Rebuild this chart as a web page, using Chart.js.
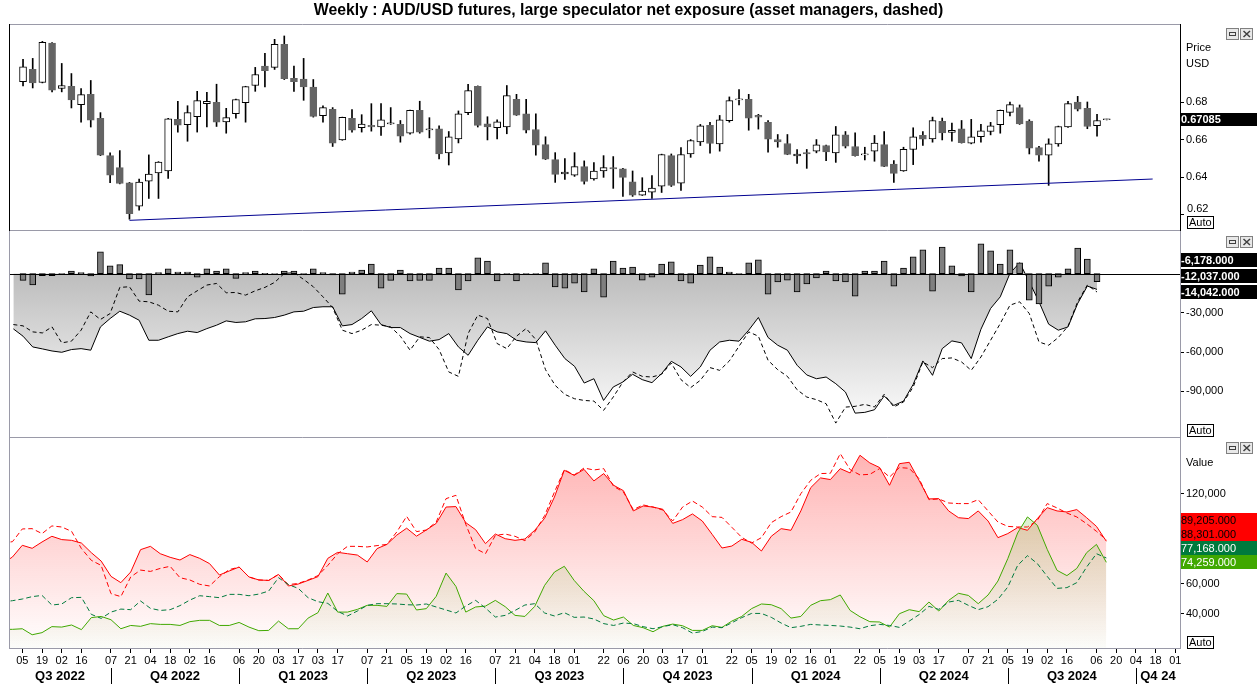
<!DOCTYPE html>
<html>
<head>
<meta charset="utf-8">
<script src="https://cdn.jsdelivr.net/npm/chart.js@4.4.1/dist/chart.umd.min.js"></script>
<style>
html,body{margin:0;padding:0;background:#fff;}
body{width:1257px;height:685px;overflow:hidden;position:relative;font-family:"Liberation Sans",Arial,sans-serif;color:#000;}
canvas{position:absolute;left:0;display:block;}
#title{position:absolute;left:0;top:1px;width:1257px;text-align:center;font-weight:bold;font-size:15.8px;line-height:18px;}
.lbl{position:absolute;font-size:11px;line-height:13px;}
.auto{position:absolute;font-size:11px;line-height:11px;height:11px;border:1px solid #000;padding:0 1px;background:#fff;}
.icons{position:absolute;left:1226px;}
</style>
</head>
<body>
<canvas id="cPrice" width="1257" height="231" style="top:0"></canvas>
<canvas id="cNet" width="1257" height="207" style="top:231px"></canvas>
<canvas id="cPos" width="1257" height="247" style="top:438px"></canvas>
<div id="title">Weekly : AUD/USD futures, large speculator net exposure (asset managers, dashed)</div>
<div class="lbl" style="left:1186px;top:41px">Price</div>
<div class="lbl" style="left:1186px;top:57px">USD</div>
<div class="lbl" style="left:1186px;top:456px">Value</div>
<div class="auto" style="left:1187px;top:216px">Auto</div>
<div class="auto" style="left:1187px;top:424px">Auto</div>
<div class="auto" style="left:1187px;top:636px">Auto</div>
<svg class="icons" style="top:28px" width="30" height="12"><rect x="0.5" y="0.5" width="12" height="11" fill="#e8e8e8" stroke="#808080"/><rect x="3.5" y="4.5" width="6" height="3" fill="none" stroke="#404040"/><rect x="14.5" y="0.5" width="12" height="11" fill="#e8e8e8" stroke="#808080"/><path d="M17.5 3 L24 9 M24 3 L17.5 9" stroke="#404040" stroke-width="1.5"/></svg>
<svg class="icons" style="top:236px" width="30" height="12"><rect x="0.5" y="0.5" width="12" height="11" fill="#e8e8e8" stroke="#808080"/><rect x="3.5" y="4.5" width="6" height="3" fill="none" stroke="#404040"/><rect x="14.5" y="0.5" width="12" height="11" fill="#e8e8e8" stroke="#808080"/><path d="M17.5 3 L24 9 M24 3 L17.5 9" stroke="#404040" stroke-width="1.5"/></svg>
<svg class="icons" style="top:442px" width="30" height="12"><rect x="0.5" y="0.5" width="12" height="11" fill="#e8e8e8" stroke="#808080"/><rect x="3.5" y="4.5" width="6" height="3" fill="none" stroke="#404040"/><rect x="14.5" y="0.5" width="12" height="11" fill="#e8e8e8" stroke="#808080"/><path d="M17.5 3 L24 9 M24 3 L17.5 9" stroke="#404040" stroke-width="1.5"/></svg>
<script>
// ================= DATA =================
// Weekly candles, week 0 = 29 Jul 2022 ... week 112 = 20 Sep 2024
const OPEN = [0.6910,0.6976,0.6906,0.7117,0.6874,0.6886,0.6788,0.6843,0.6714,0.6515,
 0.6451,0.6370,0.6245,0.6379,0.6422,0.6433,0.6709,0.6680,0.6723,0.6793,
 0.6800,0.6696,0.6739,0.6798,0.6890,0.6994,0.6987,0.7110,0.6929,0.6924,
 0.6881,0.6729,0.6763,0.6599,0.6714,0.6664,0.6677,0.6669,0.6685,0.6682,
 0.6635,0.6757,0.6653,0.6659,0.6530,0.6605,0.6745,0.6886,0.6685,0.6664,
 0.6669,0.6816,0.6739,0.6655,0.6574,0.6494,0.6417,0.6411,0.6456,0.6390,
 0.6433,0.6451,0.6445,0.6375,0.6304,0.6320,0.6352,0.6515,0.6368,0.6524,
 0.6589,0.6677,0.6578,0.6702,0.6813,0.6816,0.6730,0.6693,0.6601,0.6580,
 0.6513,0.6531,0.6539,0.6569,0.6530,0.6626,0.6564,0.6519,0.6539,0.6574,
 0.6470,0.6433,0.6548,0.6623,0.6605,0.6698,0.6639,0.6659,0.6582,0.6616,
 0.6644,0.6680,0.6746,0.6772,0.6700,0.6558,0.6517,0.6578,0.6668,0.6802,
 0.6768,0.6675,0.6707];
const HIGH = [0.7030,0.7035,0.7126,0.7120,0.7008,0.6954,0.6874,0.6917,0.6745,0.6530,
 0.6542,0.6372,0.6390,0.6519,0.6483,0.6714,0.6806,0.6782,0.6859,0.6854,
 0.6897,0.6768,0.6817,0.6886,0.6987,0.7062,0.7137,0.7155,0.6994,0.7035,
 0.6922,0.6782,0.6772,0.6721,0.6761,0.6734,0.6793,0.6793,0.6772,0.6703,
 0.6759,0.6806,0.6718,0.6675,0.6644,0.6754,0.6897,0.6888,0.6723,0.6707,
 0.6890,0.6843,0.6816,0.6739,0.6616,0.6531,0.6499,0.6531,0.6487,0.6478,
 0.6515,0.6510,0.6447,0.6433,0.6397,0.6408,0.6523,0.6524,0.6558,0.6601,
 0.6682,0.6693,0.6730,0.6829,0.6868,0.6843,0.6736,0.6703,0.6628,0.6628,
 0.6548,0.6548,0.6601,0.6571,0.6671,0.6644,0.6637,0.6560,0.6623,0.6644,
 0.6488,0.6560,0.6664,0.6644,0.6721,0.6716,0.6689,0.6703,0.6709,0.6682,
 0.6693,0.6759,0.6802,0.6786,0.6707,0.6565,0.6605,0.6673,0.6806,0.6832,
 0.6802,0.6736,0.6710];
const LOW = [0.6888,0.6877,0.6904,0.6856,0.6856,0.6770,0.6694,0.6668,0.6515,0.6370,
 0.6364,0.6175,0.6223,0.6286,0.6286,0.6393,0.6641,0.6592,0.6641,0.6668,
 0.6671,0.6635,0.6716,0.6694,0.6859,0.6883,0.6976,0.6922,0.6859,0.6811,
 0.6721,0.6694,0.6564,0.6597,0.6641,0.6641,0.6646,0.6623,0.6682,0.6587,
 0.6630,0.6635,0.6610,0.6497,0.6465,0.6583,0.6734,0.6668,0.6599,0.6605,
 0.6632,0.6730,0.6637,0.6517,0.6494,0.6372,0.6388,0.6404,0.6363,0.6384,
 0.6399,0.6340,0.6297,0.6297,0.6302,0.6286,0.6318,0.6350,0.6329,0.6506,
 0.6569,0.6528,0.6539,0.6694,0.6786,0.6651,0.6657,0.6533,0.6560,0.6520,
 0.6474,0.6447,0.6530,0.6488,0.6479,0.6556,0.6512,0.6492,0.6485,0.6456,
 0.6372,0.6431,0.6467,0.6569,0.6587,0.6599,0.6592,0.6582,0.6578,0.6587,
 0.6626,0.6635,0.6727,0.6682,0.6524,0.6485,0.6356,0.6565,0.6666,0.6754,
 0.6659,0.6619,0.6706];
const CLOSE = [0.6990,0.6904,0.7121,0.6865,0.6890,0.6813,0.6841,0.6705,0.6517,0.6410,
 0.6366,0.6205,0.6374,0.6417,0.6481,0.6712,0.6678,0.6745,0.6809,0.6806,
 0.6694,0.6718,0.6815,0.6884,0.6949,0.6969,0.7110,0.6926,0.6910,0.6883,
 0.6725,0.6772,0.6582,0.6720,0.6651,0.6684,0.6668,0.6707,0.6691,0.6619,
 0.6757,0.6641,0.6659,0.6524,0.6616,0.6739,0.6863,0.6677,0.6668,0.6696,
 0.6836,0.6732,0.6651,0.6571,0.6496,0.6415,0.6427,0.6456,0.6377,0.6433,
 0.6451,0.6444,0.6399,0.6304,0.6325,0.6341,0.6521,0.6356,0.6521,0.6596,
 0.6675,0.6580,0.6707,0.6809,0.6816,0.6716,0.6721,0.6603,0.6589,0.6522,
 0.6524,0.6524,0.6573,0.6535,0.6626,0.6565,0.6515,0.6522,0.6582,0.6458,
 0.6420,0.6549,0.6616,0.6603,0.6703,0.6637,0.6650,0.6585,0.6616,0.6648,
 0.6675,0.6757,0.6788,0.6684,0.6555,0.6517,0.6578,0.6671,0.6793,0.6763,
 0.6671,0.6703,0.67085];

// Support trend line (week, price)
const TREND_WEEKS = [11, 116.75];
const TREND_PRICES = [0.6169, 0.6390];

// Weekly change of large speculator net exposure, weeks 0..111
const NET_CHANGE = [-5100,-8700,-1500,-1500,-800,2000,800,-1800,16600,5900,6900,-4100,-4100,-16300,800,3600,1300,1300,-2600,3600,2000,3600,-3600,800,2000,300,-300,2000,2000,-800,3600,800,-1000,-15600,1300,2800,7400,-11000,-5100,2800,-5600,-5100,
 -5100,4300,4300,-12500,-5600,12000,9700,-5600,-500,-5600,-500,-500,8200,-10200,-11000,-7200,-14000,3600,-17900,9700,4300,5100,-4900,-2600,7400,9000,-5600,-7200,6600,12800,5100,1300,-500,8200,10500,-15600,-6400,-4900,-14000,-7900,
 -3300,2000,-5600,-6400,-17200,2000,2000,9700,-9500,4300,12800,18200,-13300,20400,5900,-1800,-14000,22700,17400,7400,18200,8200,-20200,-23200,-9500,-2600,3600,19600,11200,-6178];

// Line series start one week before the first candle (week -1 .. 111)
const LINE_START_WEEK = -1;
const NET_LARGE_SPEC = [-42200,-47800,-56000,-57500,-59100,-60100,-58000,-57300,-58500,-40700,-34300,-28700,-31700,-35600,-50900,-50900,-48300,-45800,-44000,-45000,-42000,-39400,-36100,-37300,-36800,-34500,-34300,-33500,-31700,-29200,-28700,-25900,-25300,-25300,-39900,-38900,-34300,-28400,-38900,-41200,-41200,-45800,-48700,
 -51600,-50400,-45800,-56000,-62400,-50900,-40700,-44500,-45800,-50900,-52200,-52700,-43700,-54700,-64900,-70800,-83600,-80300,-96900,-86600,-82800,-76900,-81000,-83300,-76400,-67000,-71300,-78500,-71300,-58500,-52200,-50900,-51600,-43200,-33500,-48800,-54700,-58500,-70000,-77400,
 -80300,-79000,-84100,-90500,-106600,-106000,-104000,-93500,-100700,-97400,-84600,-66700,-77700,-57300,-51400,-52900,-64900,-42500,-26600,-17700,200,8400,-6200,-21500,-38600,-43200,-40700,-22800,-9500,-12037];
const NET_ASSET_MGR = [-38900,-39900,-44500,-45300,-40700,-52900,-51600,-43200,-29200,-35000,-30500,-10500,-10000,-21000,-21500,-24100,-28700,-29200,-17700,-13100,-8700,-7500,-14600,-14400,-16400,-13100,-10500,-6700,200,700,-4400,-10000,-17700,-25900,-43200,-45800,-43200,-38900,-39400,-40700,-47800,-58500,-48300,
 -48800,-58000,-75100,-78500,-45800,-31700,-34300,-53400,-57300,-47800,-41900,-50400,-73400,-85400,-92300,-95600,-96900,-97400,-104500,-94300,-82800,-75100,-78500,-79000,-76900,-68300,-81000,-87100,-81500,-71800,-73900,-66700,-55500,-44500,-47800,-66200,-73400,-78500,-88700,-94300,
 -96300,-99400,-114200,-102000,-101400,-99900,-101900,-92200,-101900,-98100,-86600,-67500,-71800,-64900,-64400,-67500,-73900,-63700,-50900,-38100,-24100,-21500,-30500,-52200,-54700,-48800,-40200,-21500,-8700,-14042];

// Gross positions (week -1 .. 111)
const SHORT_LARGE_SPEC = [73400,77800,85600,83600,87800,91600,89400,88900,87100,80700,75100,64900,60700,67800,82700,84900,80000,77600,75800,79400,76900,73400,65800,68500,71100,64500,62500,62200,66200,58500,59800,62200,64700,76900,80900,80000,79100,74500,83400,86200,92400,97000,91700,
 95800,100200,111100,111400,100700,96000,86700,93100,90000,88900,89800,95600,103600,117800,135600,132200,136200,128500,133400,125600,122000,108500,111800,111100,109600,100200,102700,106500,101800,92900,83800,85100,89600,87600,81800,91600,96700,95600,108500,124000,
 130500,129400,136700,133800,145600,140500,137400,125600,140000,140900,128900,116500,116700,108500,104000,103400,108500,101800,90700,93400,97400,95600,103400,110700,108500,107800,109400,104000,98200,88301];
const SHORT_ASSET_MGR = [87100,88000,96500,96700,93400,98500,97800,94900,83400,75600,72200,53400,51400,64500,69100,68200,70200,71600,64000,62500,59600,58500,64700,69400,71100,64500,62500,62200,66200,59400,60200,62500,65400,72200,80000,84900,84900,84500,85400,86200,94500,104900,94700,
 95800,101100,116700,118900,99600,83400,80000,92200,93100,91600,88700,94500,105400,121100,136000,132500,137100,135800,136700,124900,121100,109400,112500,111100,109100,101800,111100,115100,111100,104700,104200,97600,90900,87100,90700,100700,104700,107800,120000,128900,
 133400,133600,146700,136000,132500,132900,136700,131100,137400,136900,130000,116000,116500,113800,113400,113400,116000,108500,101100,98200,97800,97800,102200,113400,110500,107100,104500,100000,94900,89205];
const LONG_LARGE_SPEC = [29600,29600,30000,26000,27400,31400,31100,32500,29400,37400,38200,36000,30000,32200,31600,33400,32900,32900,32200,34700,35600,35600,32200,32200,34200,31100,28700,28900,35100,30000,30000,37100,40700,53800,41100,41100,42900,45600,45600,44900,53400,53100,42500,
 43400,51600,67100,58200,41100,44500,45100,48900,44700,38900,38200,44900,58900,67800,71600,62200,54900,48700,38700,35800,37800,32200,30700,28000,31600,33100,32000,28900,28900,32000,30900,35100,38200,43400,46500,46000,43400,37100,38200,45600,
 48700,49400,52500,42200,38000,34700,34500,31100,40000,42700,41400,47800,41800,48900,53600,52200,46700,52500,61800,76700,93800,104500,98900,82900,68900,65400,70200,80700,86200,74259];
const LONG_ASSET_MGR = [47800,48700,49800,51400,52200,45800,46500,50700,50900,39600,36900,41100,43100,42700,48500,43600,42200,42700,45400,49100,52000,51400,50700,52900,52900,52000,53100,55100,64000,59400,56900,50700,48000,46900,41600,38500,41800,45600,46700,46700,46500,46000,45800,
 46500,44500,42500,40500,45100,48900,43800,37800,38900,42200,45800,46700,40500,38500,40700,37600,37800,36500,33400,32200,33800,33400,31400,30000,31400,32700,30700,27100,28200,31100,30700,34000,37400,40200,40200,37600,33800,30700,31600,32900,
 32500,32200,31800,31100,30000,32000,32900,32200,30900,35100,39400,44900,42900,47800,48900,45600,42700,44700,49600,57800,72200,78700,73400,64900,56900,57400,60700,71100,80000,77168];

// Axis labels
const DATE_TICK_WEEKS = [1,3,5,7,10,12,14,16,18,20,23,25,27,29,31,33,36,38,40,42,44,46,49,51,53,55,57,60,62,64,66,68,70,73,75,77,79,81,83,86,88,90,92,94,97,99,101,103,105,107,110,112,114,116,118];
const DATE_TICK_LABELS = ['05','19','02','16','07','21','04','18','02','16','06','20','03','17','03','17','07','21','05','19','02','16','07','21','04','18','01','22','06','20','03','17','01','22','05','19','02','16','01','22','05','19','03','17','07','21','05','19','02','16','06','20','04','18','01'];
const QUARTER_START_WEEKS = [10,23,36,49,62,75,88,101,114];
const QUARTER_LABELS = ['Q3 2022','Q4 2022','Q1 2023','Q2 2023','Q3 2023','Q4 2023','Q1 2024','Q2 2024','Q3 2024','Q4 24'];
const PRICE_TICKS = [0.62,0.64,0.66,0.68];
const NET_TICKS = [-30000,-60000,-90000];
const POS_TICKS = [40000,60000,120000];

// ================= CHARTS =================
const FONT = '"Liberation Sans", Arial, Helvetica, sans-serif';
Chart.defaults.font.family = FONT;
Chart.defaults.font.size = 11;
Chart.defaults.color = '#000';
Chart.defaults.animation = false;
Chart.defaults.events = [];
Chart.defaults.plugins.legend.display = false;
Chart.defaults.plugins.tooltip.enabled = false;

const X_MIN = -0.35, X_MAX = 118.475;
const GRAY = '#9a9aa8';
const fmt0 = v => Math.round(v).toLocaleString('en-US');
const fmt3 = v => v.toLocaleString('en-US', {minimumFractionDigits:3, maximumFractionDigits:3});

function xAxis(show){
  return {
    type:'linear', min:X_MIN, max:X_MAX, display:show, bounds:'data',
    afterBuildTicks: s => { s.ticks = DATE_TICK_WEEKS.map(v => ({value:v})); },
    afterFit: s => { s.height = show ? 36 : 0; s.paddingLeft = 0; s.paddingRight = 0; s.paddingTop = 0; s.paddingBottom = 0; },
    ticks:{autoSkip:false, maxRotation:0, minRotation:0, padding:1, callback:(v,i)=>DATE_TICK_LABELS[i], font:{size:11}, color:'#000'},
    grid:{drawOnChartArea:false, drawTicks:true, tickLength:4, color:'#000'},
    border:{display:false}
  };
}
function yAxis(min, max, ticks, fmt, hideLabelAt){
  return {
    position:'right', min, max, bounds:'data',
    afterBuildTicks: s => { s.ticks = ticks.map(v => ({value:v})); },
    afterFit: s => { s.width = 77; s.paddingTop = 0; s.paddingBottom = 0; s.paddingLeft = 0; s.paddingRight = 0; },
    ticks:{callback: v => (v === hideLabelAt ? '' : fmt(v)), padding:2, font:{size:11}, color:'#000', autoSkip:false},
    grid:{drawOnChartArea:false, drawTicks:true, tickLength:4, color:'#000'},
    border:{display:false}
  };
}

const framePlugin = {
  id:'frame',
  afterDraw(chart, args, o){
    const {ctx, chartArea:a} = chart;
    const L = Math.round(a.left) + 0.5, R = Math.round(a.right) + 0.5;
    const T = Math.round(a.top) + 0.5, B = Math.round(a.bottom) - 0.5;
    ctx.save(); ctx.lineWidth = 1;
    const seg = (c,x1,y1,x2,y2) => { ctx.strokeStyle=c; ctx.beginPath(); ctx.moveTo(x1,y1); ctx.lineTo(x2,y2); ctx.stroke(); };
    if (o.zero) { const y = Math.round(chart.scales.y.getPixelForValue(0)) + 0.5; seg('#000', L, y, R, y); }
    if (o.top) seg(o.top, L, T, R, T);
    if (o.bottom) seg(o.bottom, L, B, R, B);
    if (o.left) seg(o.left, L, a.top, L, a.bottom);
    if (o.right) seg(o.right, R, a.top, R, a.bottom);
    // a tick label nudged upward (to clear the "Auto" box), as in the original
    if (o.shifted) {
      const py = chart.scales.y.getPixelForValue(o.shifted.value) + o.shifted.dy;
      ctx.fillStyle = '#000'; ctx.font = '11px ' + FONT; ctx.textAlign = 'left'; ctx.textBaseline = 'middle';
      ctx.fillText(o.shifted.text, Math.round(a.right) + 7, py);
    }
    ctx.restore();
  }
};
const tagPlugin = {
  id:'tags',
  afterDraw(chart, args, o){
    if (!o.items) return;
    const {ctx, chartArea:a} = chart, y = chart.scales.y;
    const list = o.items.map(t => Object.assign({py: y.getPixelForValue(t.value)}, t)).sort((p,q) => q.py - p.py);
    let prev = Infinity;
    list.forEach(t => { t.cy = Math.min(t.py, prev - o.step); prev = t.cy; });
    const x0 = Math.round(a.right) + 1;
    ctx.save();
    list.forEach(t => {
      const top = Math.round(t.cy - o.h/2);
      ctx.fillStyle = t.bg; ctx.fillRect(x0, top, chart.width - x0, o.h);
      ctx.fillStyle = t.fg; ctx.font = o.font; ctx.textBaseline = 'middle'; ctx.textAlign = 'left';
      ctx.fillText(t.text, x0, top + o.h/2 + 0.5);
    });
    ctx.restore();
  }
};
const quarterPlugin = {
  id:'quarters',
  afterDraw(chart){
    const {ctx, chartArea:a} = chart, x = chart.scales.x;
    const bounds = [a.left, ...QUARTER_START_WEEKS.map(w => x.getPixelForValue(w)), a.right];
    ctx.save();
    ctx.strokeStyle = '#000'; ctx.lineWidth = 1;
    QUARTER_START_WEEKS.forEach(w => {
      const px = Math.round(x.getPixelForValue(w)) + 0.5;
      ctx.beginPath(); ctx.moveTo(px, a.bottom + 19); ctx.lineTo(px, a.bottom + 35); ctx.stroke();
    });
    ctx.font = 'bold 13px ' + FONT; ctx.fillStyle = '#000'; ctx.textAlign = 'center'; ctx.textBaseline = 'middle';
    QUARTER_LABELS.forEach((lab, k) => ctx.fillText(lab, (bounds[k] + bounds[k+1]) / 2, a.bottom + 27));
    ctx.restore();
  }
};

// ---------- price panel ----------
const weeks = OPEN.map((_, i) => i);
const isUp = i => CLOSE[i] >= OPEN[i];
new Chart(document.getElementById('cPrice'), {
  type:'bar',
  data:{datasets:[
    {type:'line', data: TREND_WEEKS.map((w,k) => ({x:w, y:TREND_PRICES[k]})), borderColor:'#000090', borderWidth:1, pointRadius:0, order:1},
    {type:'bar', data: weeks.map(i => ({x:i, y:[OPEN[i], CLOSE[i]]})), grouped:false, barThickness:7, minBarLength:1,
     backgroundColor: c => isUp(c.dataIndex) ? '#ffffff' : '#646464',
     borderColor: c => isUp(c.dataIndex) ? '#000000' : '#646464',
     borderWidth:1, borderSkipped:false, order:2},
    {type:'bar', data: weeks.map(i => ({x:i, y:[LOW[i], HIGH[i]]})), grouped:false, barThickness:1, backgroundColor:'#000', borderWidth:0, order:3}
  ]},
  options:{
    responsive:false, maintainAspectRatio:false,
    layout:{padding:{left:9, top:24, right:0, bottom:0}},
    scales:{ x: xAxis(false), y: yAxis(0.6112, 0.7219, PRICE_TICKS, v => v.toFixed(2), PRICE_TICKS[0]) },
    plugins:{
      frame:{top:GRAY, bottom:GRAY, left:'#000', right:'#000', shifted:{value:PRICE_TICKS[0], dy:-6, text:PRICE_TICKS[0].toFixed(2)}},
      tags:{h:13, step:14, font:'bold 11px ' + FONT,
        items:[{value: CLOSE[CLOSE.length-1], text: CLOSE[CLOSE.length-1].toFixed(5), bg:'#000', fg:'#fff'}]}
    }
  },
  plugins:[framePlugin, tagPlugin]
});

// ---------- net exposure panel ----------
const lineXY = arr => arr.map((v,k) => ({x: LINE_START_WEEK + k, y: v}));
const grayFill = c => {
  const ch = c.chart, a = ch.chartArea;
  if (!a) return '#cccccc';
  const y0 = ch.scales.y.getPixelForValue(0), y1 = ch.scales.y.getPixelForValue(-112000);
  const g = ch.ctx.createLinearGradient(0, y0, 0, y1);
  g.addColorStop(0, '#bdbdbd'); g.addColorStop(1, '#fbfbfb');
  return g;
};
new Chart(document.getElementById('cNet'), {
  type:'bar',
  data:{datasets:[
    {type:'bar', data: NET_CHANGE.map((v,i) => ({x:i, y:v})), barThickness:6, backgroundColor:'#7f7f7f', borderColor:'#000', borderWidth:1, borderSkipped:false, grouped:false, order:1},
    {type:'line', data: lineXY(NET_ASSET_MGR), borderColor:'#000', borderWidth:1, borderDash:[4,3], pointRadius:0, fill:false, order:2},
    {type:'line', data: lineXY(NET_LARGE_SPEC), borderColor:'#000', borderWidth:1, pointRadius:0, fill:{value:0}, backgroundColor: grayFill, order:3}
  ]},
  options:{
    responsive:false, maintainAspectRatio:false,
    layout:{padding:{left:9, top:0, right:0, bottom:0}},
    scales:{ x: xAxis(false), y: yAxis(-125600, 32600, NET_TICKS, fmt0) },
    plugins:{
      filler:{drawTime:'beforeDatasetsDraw'},
      frame:{bottom:GRAY, left:GRAY, right:GRAY, zero:true},
      tags:{h:14, step:16, font:'bold 11px ' + FONT, items:[
        {value: NET_CHANGE[NET_CHANGE.length-1], text: fmt3(NET_CHANGE[NET_CHANGE.length-1]), bg:'#000', fg:'#fff'},
        {value: NET_LARGE_SPEC[NET_LARGE_SPEC.length-1], text: fmt3(NET_LARGE_SPEC[NET_LARGE_SPEC.length-1]), bg:'#000', fg:'#fff'},
        {value: NET_ASSET_MGR[NET_ASSET_MGR.length-1], text: fmt3(NET_ASSET_MGR[NET_ASSET_MGR.length-1]), bg:'#000', fg:'#fff'}
      ]}
    }
  },
  plugins:[framePlugin, tagPlugin]
});

// ---------- long / short panel ----------
const grad = (top, bottom, cTop, cBot) => c => {
  const ch = c.chart, a = ch.chartArea;
  if (!a) return cTop;
  const g = ch.ctx.createLinearGradient(0, ch.scales.y.getPixelForValue(top), 0, ch.scales.y.getPixelForValue(bottom));
  g.addColorStop(0, cTop); g.addColorStop(1, cBot);
  return g;
};
new Chart(document.getElementById('cPos'), {
  type:'line',
  data:{datasets:[
    {data: lineXY(SHORT_LARGE_SPEC), borderColor:'#ff0000', borderWidth:1, pointRadius:0, fill:'start',
     backgroundColor: grad(150000, 17000, 'rgba(255,40,40,0.36)', 'rgba(255,40,40,0)'), order:4},
    {data: lineXY(SHORT_ASSET_MGR), borderColor:'#ff0000', borderWidth:1, borderDash:[5,3], pointRadius:0, fill:false, order:3},
    {data: lineXY(LONG_LARGE_SPEC), borderColor:'#40a800', borderWidth:1, pointRadius:0, fill:'start',
     backgroundColor: grad(110000, 17000, 'rgba(100,190,40,0.24)', 'rgba(140,170,80,0.03)'), order:2},
    {data: lineXY(LONG_ASSET_MGR), borderColor:'#007a3d', borderWidth:1, borderDash:[5,3], pointRadius:0, fill:false, order:1}
  ]},
  options:{
    responsive:false, maintainAspectRatio:false,
    layout:{padding:{left:9, top:0, right:0, bottom:0}},
    scales:{ x: xAxis(true), y: yAxis(16500, 157100, POS_TICKS, fmt0) },
    plugins:{
      filler:{drawTime:'beforeDatasetsDraw'},
      frame:{bottom:GRAY, left:GRAY, right:GRAY},
      tags:{h:14, step:14, font:'11px ' + FONT, items:[
        {value: SHORT_ASSET_MGR[SHORT_ASSET_MGR.length-1], text: fmt3(SHORT_ASSET_MGR[SHORT_ASSET_MGR.length-1]), bg:'#ff0000', fg:'#000'},
        {value: SHORT_LARGE_SPEC[SHORT_LARGE_SPEC.length-1], text: fmt3(SHORT_LARGE_SPEC[SHORT_LARGE_SPEC.length-1]), bg:'#ff0000', fg:'#000'},
        {value: LONG_ASSET_MGR[LONG_ASSET_MGR.length-1], text: fmt3(LONG_ASSET_MGR[LONG_ASSET_MGR.length-1]), bg:'#007a3d', fg:'#fff'},
        {value: LONG_LARGE_SPEC[LONG_LARGE_SPEC.length-1], text: fmt3(LONG_LARGE_SPEC[LONG_LARGE_SPEC.length-1]), bg:'#40a800', fg:'#fff'}
      ]}
    }
  },
  plugins:[framePlugin, tagPlugin, quarterPlugin]
});
</script>
</body>
</html>
